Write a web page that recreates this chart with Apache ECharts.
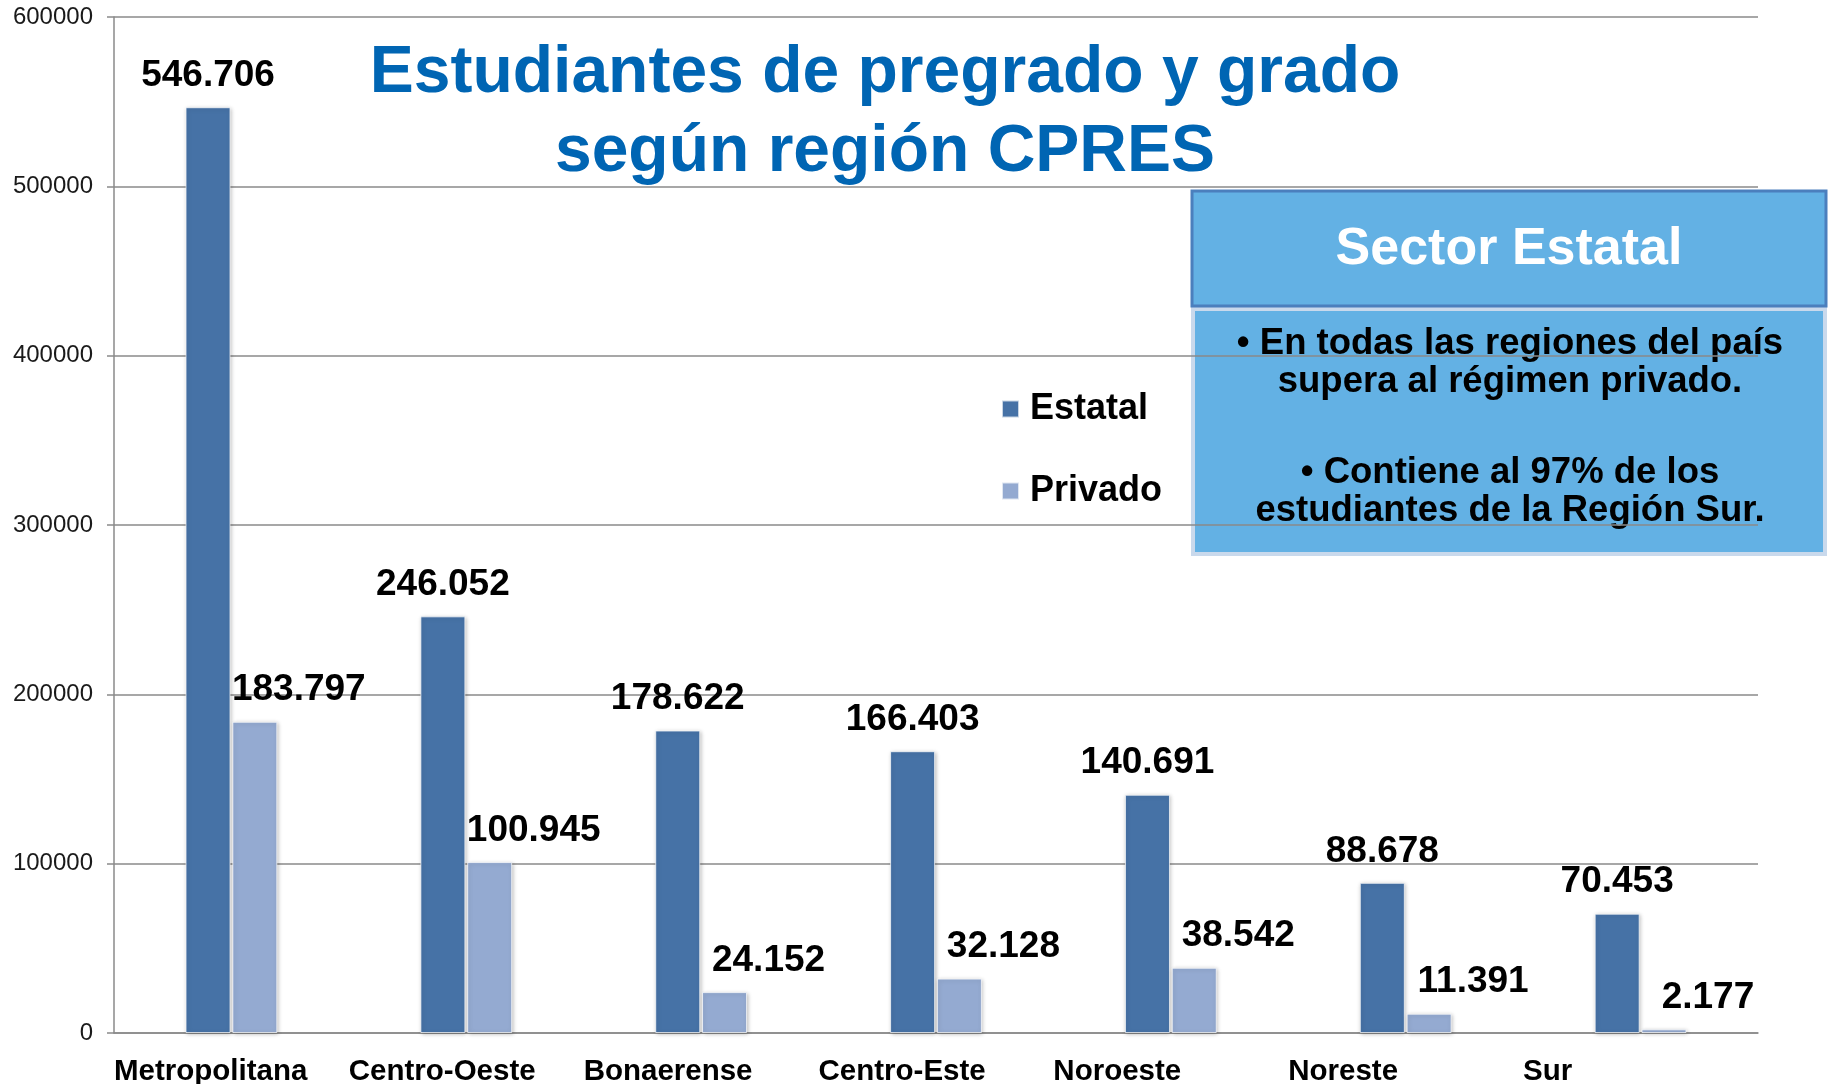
<!DOCTYPE html>
<html>
<head>
<meta charset="utf-8">
<script src="https://cdn.jsdelivr.net/npm/echarts@6/dist/echarts.min.js"></script>
<style>
  html, body { margin: 0; padding: 0; background: #fff; }
  #chart { width: 1829px; height: 1084px; }
</style>
</head>
<body>
<div id="chart"></div>
<script>
const regiones = ['Metropolitana', 'Centro-Oeste', 'Bonaerense', 'Centro-Este', 'Noroeste', 'Noreste', 'Sur'];
const estatal = [546706, 246052, 178622, 166403, 140691, 88678, 70453];
const privado = [183797, 100945, 24152, 32128, 38542, 11391, 2177];
const yTicks = [0, 100000, 200000, 300000, 400000, 500000, 600000];

const FONT = '"Liberation Sans", Arial, sans-serif';

// 546706 -> "546.706"
function miles(v) {
    return String(v).replace(/\B(?=(\d{3})+(?!\d))/g, '.');
}

let chart = echarts.init(document.getElementById('chart'));

const barLabel = {
    show: true,
    position: 'top',
    distance: 13,
    fontFamily: FONT,
    fontSize: 37,
    fontWeight: 'bold',
    color: '#000',
    formatter: p => miles(p.value)
};
const barShadow = {
    borderColor: 'rgba(255,255,255,0.7)',
    borderWidth: 1,
    shadowBlur: 4,
    shadowColor: 'rgba(0,0,0,0.25)',
    shadowOffsetX: 1,
    shadowOffsetY: 1
};

chart.setOption({
    animation: false,
    textStyle: { fontFamily: FONT },
    grid: { left: 114, right: 71, top: 17, bottom: 51, outerBoundsMode: 'none' },
    legend: {
        orient: 'vertical',
        left: 1001,
        top: 391,
        padding: 0,
        itemWidth: 17,
        itemHeight: 17,
        itemGap: 46,
        icon: 'rect',
        textStyle: {
            fontFamily: FONT, fontSize: 36, fontWeight: 'bold', color: '#000',
            lineHeight: 36, padding: [0, 0, 0, 6]
        },
        data: ['Estatal', 'Privado']
    },
    xAxis: {
        type: 'category',
        data: regiones,
        axisLine: { lineStyle: { color: '#8a8a8a', width: 1.5 } },
        axisTick: { show: false },
        axisLabel: {
            interval: 0,
            margin: 24,
            formatter: v => '{a|' + v + '}',
            rich: {
                a: {
                    width: 235, align: 'left',
                    fontFamily: FONT, fontSize: 29.5, fontWeight: 'bold', color: '#000'
                }
            }
        }
    },
    yAxis: {
        type: 'value',
        min: yTicks[0],
        max: yTicks[yTicks.length - 1],
        interval: yTicks[1] - yTicks[0],
        axisLine: { show: true, lineStyle: { color: '#8a8a8a', width: 1.5 } },
        axisTick: { show: true, length: 7, lineStyle: { color: '#8a8a8a', width: 1.5 } },
        splitLine: { lineStyle: { color: '#8a8a8a', width: 1.5 } },
        axisLabel: {
            margin: 21, fontFamily: FONT, fontSize: 24, color: '#1a1a1a',
            formatter: v => String(v)
        }
    },
    series: [
        {
            name: 'Estatal',
            type: 'bar',
            data: estatal,
            barWidth: 45,
            barGap: '4%',
            itemStyle: Object.assign({ color: '#4672a6' }, barShadow),
            label: barLabel
        },
        {
            name: 'Privado',
            type: 'bar',
            data: privado,
            barWidth: 45,
            itemStyle: Object.assign({ color: '#94aad1' }, barShadow),
            label: Object.assign({}, barLabel, { offset: [44, 0] })
        }
    ],
    graphic: [
        {
            type: 'text', z: 10,
            style: {
                x: 885, y: 34,
                text: 'Estudiantes de pregrado y grado\nsegún región CPRES',
                align: 'center', verticalAlign: 'top',
                font: 'bold 66px ' + FONT, lineHeight: 79,
                fill: '#0065b3'
            }
        },
        // cuadro "Sector Estatal" (queda detrás de las líneas de la grilla)
        {
            type: 'rect', z: -10,
            shape: { x: 1193, y: 309, width: 632, height: 245 },
            style: { fill: '#63b1e4', stroke: '#c9d9ec', lineWidth: 4 }
        },
        {
            type: 'rect', z: -10,
            shape: { x: 1192, y: 191, width: 634, height: 115 },
            style: { fill: '#63b1e4', stroke: '#4b7fbd', lineWidth: 3 }
        },
        {
            type: 'text', z: -9,
            style: {
                x: 1509, y: 250, text: 'Sector Estatal',
                align: 'center', verticalAlign: 'middle',
                font: 'bold 52px ' + FONT, fill: '#fff'
            }
        },
        {
            type: 'text', z: -9,
            style: {
                x: 1510, y: 363,
                text: '• En todas las regiones del país\nsupera al régimen privado.',
                align: 'center', verticalAlign: 'middle',
                font: 'bold 36.5px ' + FONT, lineHeight: 38, fill: '#000'
            }
        },
        {
            type: 'text', z: -9,
            style: {
                x: 1510, y: 492,
                text: '• Contiene al 97% de los\nestudiantes de la Región Sur.',
                align: 'center', verticalAlign: 'middle',
                font: 'bold 36.5px ' + FONT, lineHeight: 38, fill: '#000'
            }
        }
    ]
});
</script>
</body>
</html>
